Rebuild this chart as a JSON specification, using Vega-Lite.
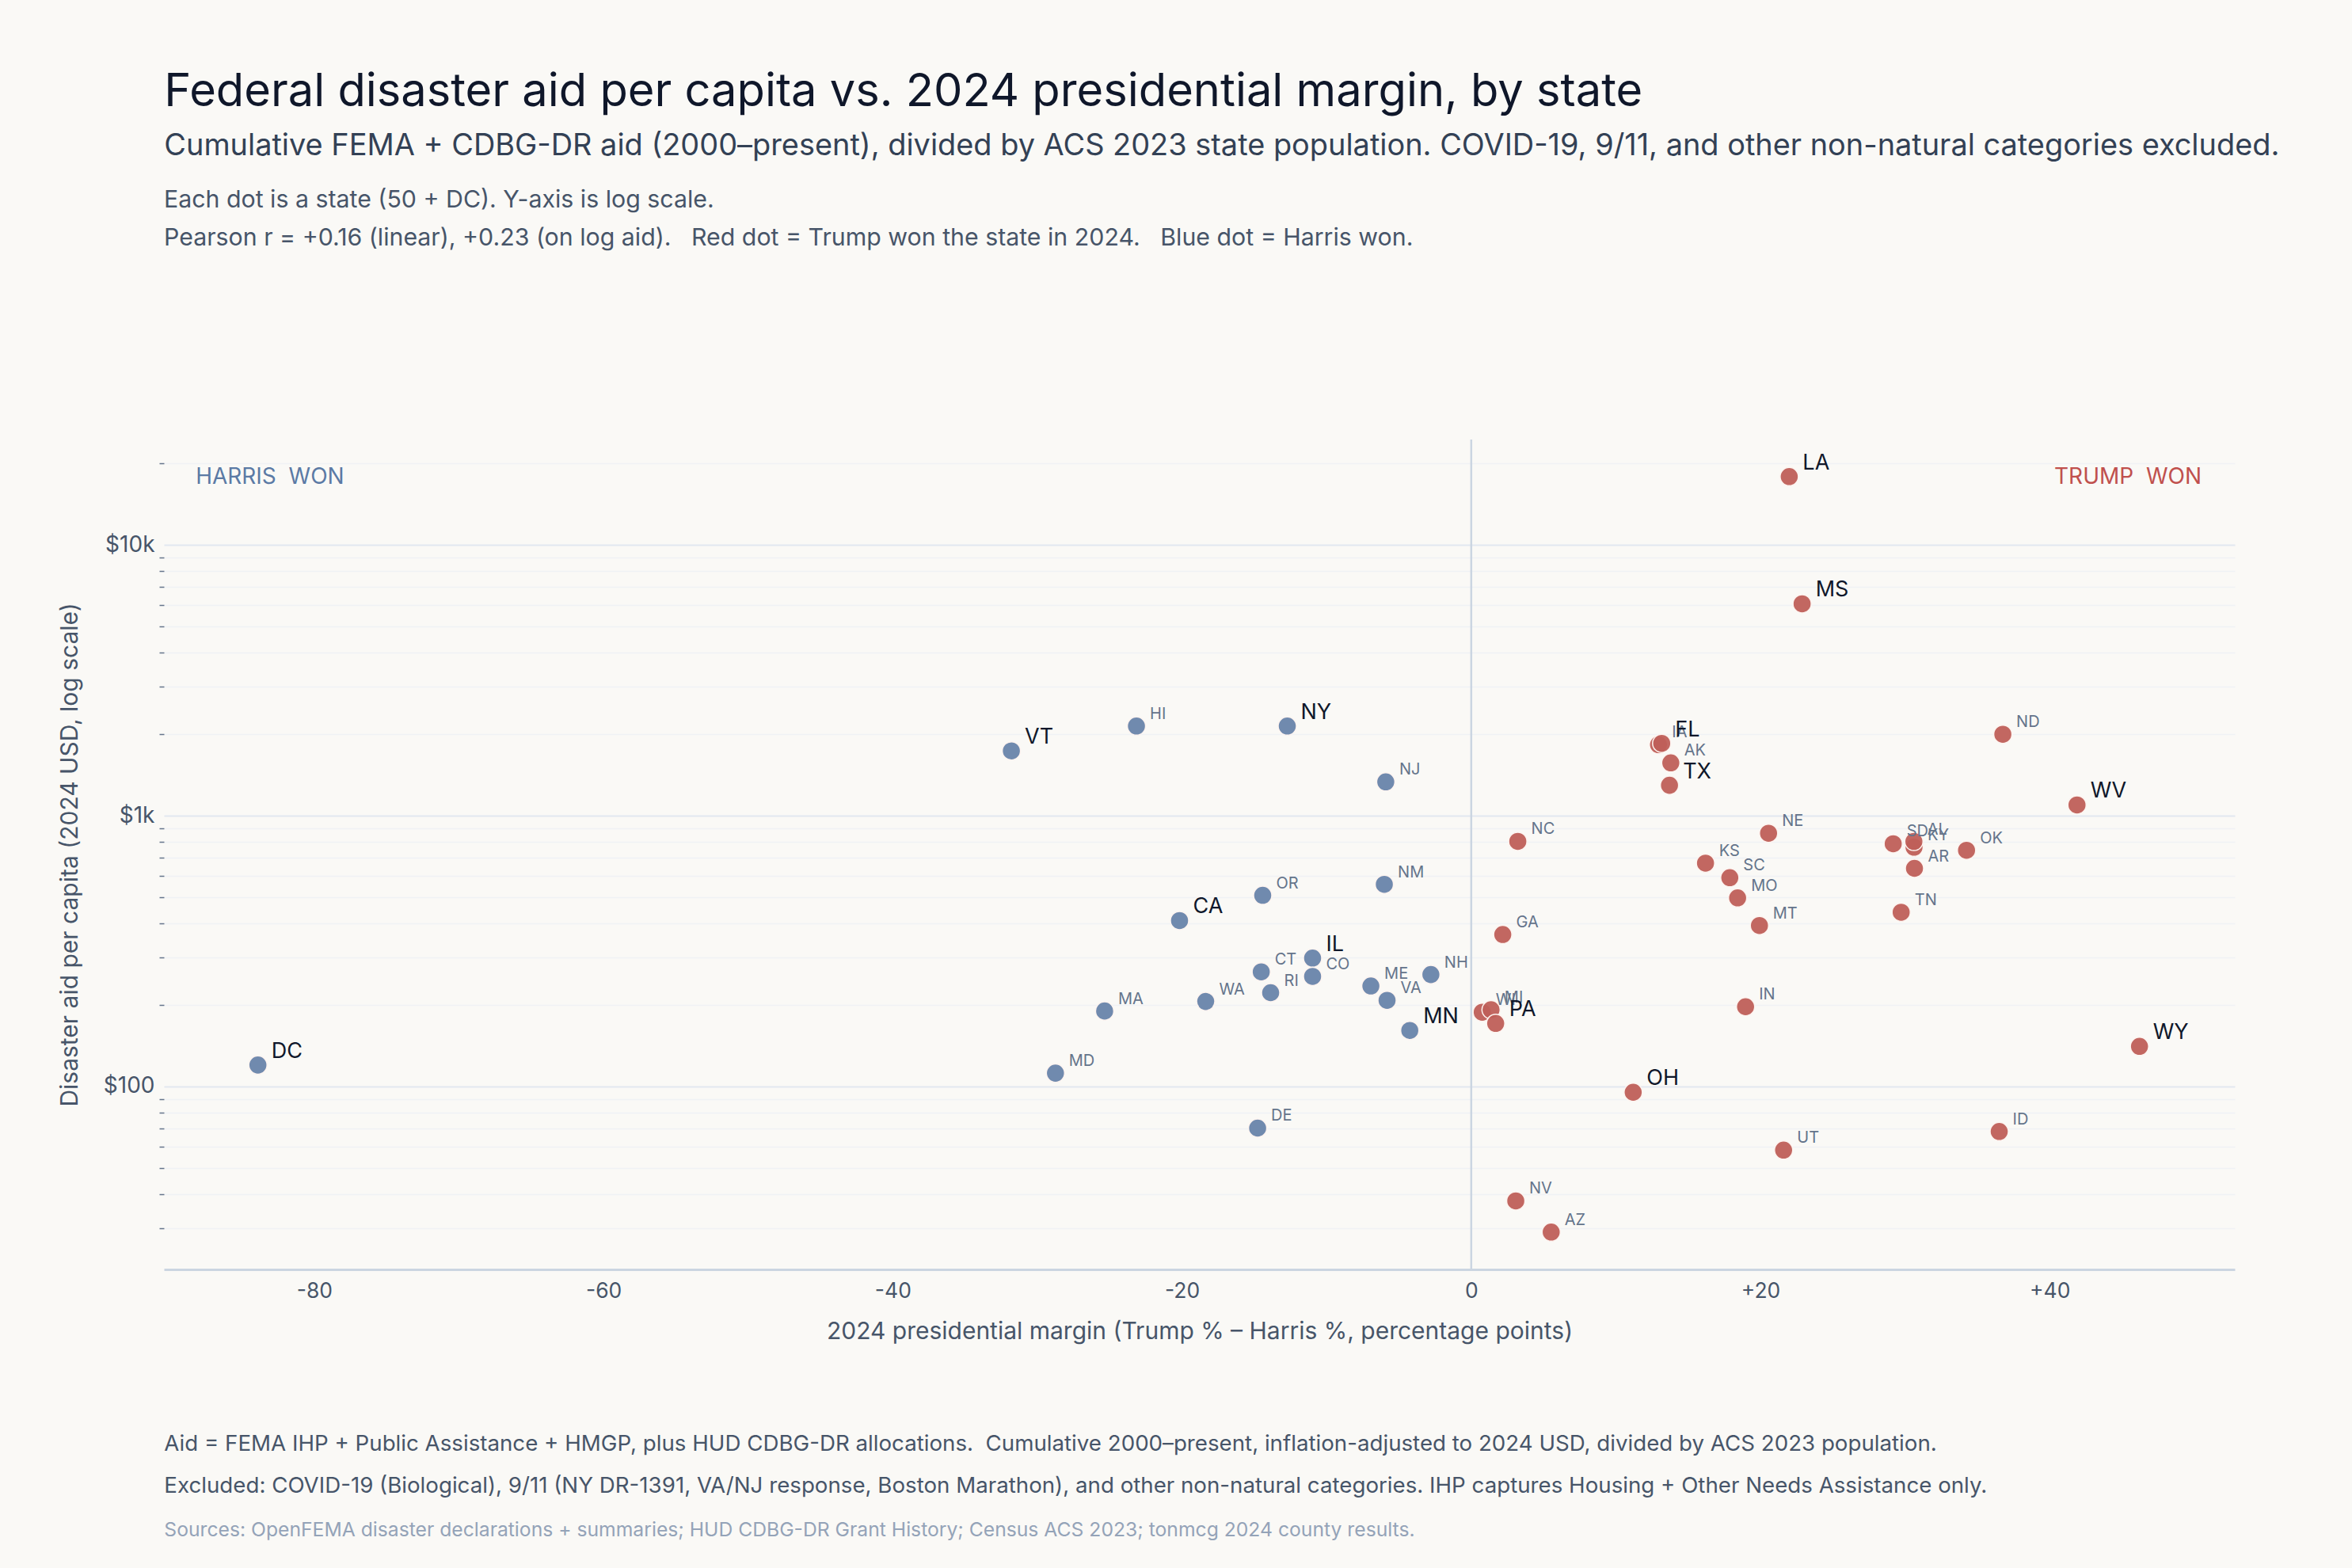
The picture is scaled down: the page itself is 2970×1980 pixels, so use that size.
{
  "$schema": "https://vega.github.io/schema/vega-lite/v6.json",
  "background": "#faf9f6",
  "padding": {"left": 73, "top": 87, "right": 142, "bottom": 40},
  "config": {
    "font": "Inter",
    "view": {"stroke": null},
    "concat": {"spacing": 0}
  },
  "datasets": {
    "states": [
      {"state": "DC", "margin": -83.9, "aid": 120, "won": "Harris", "key": true},
      {"state": "MD", "margin": -28.75, "aid": 112, "won": "Harris", "key": false},
      {"state": "MA", "margin": -25.35, "aid": 190, "won": "Harris", "key": false},
      {"state": "VT", "margin": -31.8, "aid": 1735, "won": "Harris", "key": true},
      {"state": "HI", "margin": -23.15, "aid": 2143, "won": "Harris", "key": false},
      {"state": "NY", "margin": -12.72, "aid": 2143, "won": "Harris", "key": true},
      {"state": "NJ", "margin": -5.91, "aid": 1333, "won": "Harris", "key": false},
      {"state": "CA", "margin": -20.17, "aid": 410, "won": "Harris", "key": true},
      {"state": "OR", "margin": -14.42, "aid": 508, "won": "Harris", "key": false},
      {"state": "NM", "margin": -6.01, "aid": 558, "won": "Harris", "key": false},
      {"state": "IL", "margin": -10.97, "aid": 298, "won": "Harris", "key": true},
      {"state": "CT", "margin": -14.52, "aid": 265, "won": "Harris", "key": false},
      {"state": "CO", "margin": -10.97, "aid": 255, "won": "Harris", "key": false},
      {"state": "RI", "margin": -13.87, "aid": 222, "won": "Harris", "key": false},
      {"state": "WA", "margin": -18.36, "aid": 206, "won": "Harris", "key": false},
      {"state": "ME", "margin": -6.94, "aid": 235, "won": "Harris", "key": false},
      {"state": "VA", "margin": -5.82, "aid": 208, "won": "Harris", "key": false},
      {"state": "NH", "margin": -2.79, "aid": 259, "won": "Harris", "key": false},
      {"state": "MN", "margin": -4.25, "aid": 161, "won": "Harris", "key": true},
      {"state": "DE", "margin": -14.77, "aid": 70.2, "won": "Harris", "key": false},
      {"state": "LA", "margin": 21.99, "aid": 17880, "won": "Trump", "key": true},
      {"state": "MS", "margin": 22.88, "aid": 6060, "won": "Trump", "key": true},
      {"state": "IA", "margin": 12.95, "aid": 1830, "won": "Trump", "key": false},
      {"state": "FL", "margin": 13.17, "aid": 1850, "won": "Trump", "key": true},
      {"state": "AK", "margin": 13.8, "aid": 1567, "won": "Trump", "key": false},
      {"state": "TX", "margin": 13.71, "aid": 1295, "won": "Trump", "key": true},
      {"state": "ND", "margin": 36.76, "aid": 1998, "won": "Trump", "key": false},
      {"state": "WV", "margin": 41.89, "aid": 1096, "won": "Trump", "key": true},
      {"state": "NC", "margin": 3.22, "aid": 804, "won": "Trump", "key": false},
      {"state": "NE", "margin": 20.56, "aid": 861, "won": "Trump", "key": false},
      {"state": "KS", "margin": 16.2, "aid": 668, "won": "Trump", "key": false},
      {"state": "SC", "margin": 17.88, "aid": 590, "won": "Trump", "key": false},
      {"state": "MO", "margin": 18.42, "aid": 497, "won": "Trump", "key": false},
      {"state": "MT", "margin": 19.93, "aid": 393, "won": "Trump", "key": false},
      {"state": "SD", "margin": 29.18, "aid": 788, "won": "Trump", "key": false},
      {"state": "KY", "margin": 30.62, "aid": 765, "won": "Trump", "key": false},
      {"state": "AL", "margin": 30.61, "aid": 803, "won": "Trump", "key": false},
      {"state": "AR", "margin": 30.65, "aid": 639, "won": "Trump", "key": false},
      {"state": "OK", "margin": 34.25, "aid": 745, "won": "Trump", "key": false},
      {"state": "TN", "margin": 29.73, "aid": 440, "won": "Trump", "key": false},
      {"state": "GA", "margin": 2.18, "aid": 364, "won": "Trump", "key": false},
      {"state": "WI", "margin": 0.76, "aid": 188, "won": "Trump", "key": false},
      {"state": "MI", "margin": 1.37, "aid": 192, "won": "Trump", "key": false},
      {"state": "PA", "margin": 1.69, "aid": 171, "won": "Trump", "key": true},
      {"state": "IN", "margin": 18.97, "aid": 197, "won": "Trump", "key": false},
      {"state": "OH", "margin": 11.2, "aid": 95.2, "won": "Trump", "key": true},
      {"state": "UT", "margin": 21.6, "aid": 58.2, "won": "Trump", "key": false},
      {"state": "NV", "margin": 3.08, "aid": 37.8, "won": "Trump", "key": false},
      {"state": "AZ", "margin": 5.53, "aid": 29.0, "won": "Trump", "key": false},
      {"state": "ID", "margin": 36.51, "aid": 68.2, "won": "Trump", "key": false},
      {"state": "WY", "margin": 46.21, "aid": 140.6, "won": "Trump", "key": true}
    ],
    "corners": [
      {"label": "HARRIS\u00a0\u00a0WON", "margin": -88.2, "aid": 17720, "won": "Harris"},
      {"label": "TRUMP\u00a0\u00a0WON", "margin": 50.5, "aid": 17720, "won": "Trump"}
    ]
  },
  "title": {
    "text": [
      "Aid = FEMA IHP + Public Assistance + HMGP, plus HUD CDBG-DR allocations.\u00a0\u00a0Cumulative 2000–present, inflation-adjusted to 2024 USD, divided by ACS 2023 population.",
      "Excluded: COVID-19 (Biological), 9/11 (NY DR-1391, VA/NJ response, Boston Marathon), and other non-natural categories. IHP captures Housing + Other Needs Assistance only."
    ],
    "subtitle": "Sources: OpenFEMA disaster declarations + summaries; HUD CDBG-DR Grant History; Census ACS 2023; tonmcg 2024 county results.",
    "orient": "bottom",
    "anchor": "start",
    "dx": 134,
    "offset": 113,
    "fontSize": 27.7,
    "fontWeight": "normal",
    "color": "#475569",
    "lineHeight": 53,
    "subtitleFontSize": 24.7,
    "subtitleColor": "#94a3b8",
    "subtitlePadding": 30
  },
  "vconcat": [
    {
      "title": {
        "text": "Federal disaster aid per capita vs. 2024 presidential margin, by state",
        "subtitle": "Cumulative FEMA + CDBG-DR aid (2000–present), divided by ACS 2023 state population. COVID-19, 9/11, and other non-natural categories excluded.",
        "anchor": "start",
        "dx": 134,
        "offset": 35,
        "fontSize": 57.8,
        "fontWeight": "normal",
        "color": "#0f172a",
        "subtitleFontSize": 37.9,
        "subtitleColor": "#334155",
        "subtitlePadding": 20
      },
      "vconcat": [
        {
          "title": {
            "text": [
              "Each dot is a state (50 + DC). Y-axis is log scale.",
              "Pearson r = +0.16 (linear), +0.23 (on log aid).\u00a0\u00a0\u00a0Red dot = Trump won the state in 2024.\u00a0\u00a0\u00a0Blue dot = Harris won."
            ],
            "anchor": "start",
            "frame": "group",
            "offset": 237,
            "fontSize": 30.3,
            "fontWeight": "normal",
            "color": "#475569",
            "lineHeight": 48
          },
          "width": 2615,
          "height": 1048,
          "encoding": {
            "x": {
              "field": "margin",
              "type": "quantitative",
              "scale": {"domain": [-90.4, 52.8], "nice": false, "zero": false},
              "axis": {
                "title": "2024 presidential margin (Trump % – Harris %, percentage points)",
                "values": [-80, -60, -40, -20, 0, 20, 40],
                "labelExpr": "datum.value > 0 ? '+' + datum.value : '' + datum.value",
                "grid": false,
                "ticks": false,
                "tickSize": 0,
                "domainColor": "#cbd5e1",
                "domainWidth": 3,
                "labelFontSize": 26.5,
                "labelColor": "#475569",
                "labelPadding": 14,
                "titleFontSize": 30,
                "titleFontWeight": "normal",
                "titleColor": "#475569",
                "titlePadding": 23
              }
            },
            "y": {
              "field": "aid",
              "type": "quantitative",
              "scale": {"type": "log", "domain": [21.1, 24500], "nice": false},
              "axis": {
                "title": "Disaster aid per capita (2024 USD, log scale)",
                "values": [30, 40, 50, 60, 70, 80, 90, 100, 200, 300, 400, 500, 600, 700, 800, 900, 1000, 2000, 3000, 4000, 5000, 6000, 7000, 8000, 9000, 10000, 20000],
                "labelExpr": "datum.value == 10000 ? '$10k' : datum.value == 1000 ? '$1k' : datum.value == 100 ? '$100' : ''",
                "labelOverlap": false,
                "domain": false,
                "grid": true,
                "gridColor": {"condition": {"test": "datum.value == 100 || datum.value == 1000 || datum.value == 10000", "value": "#e2e8f0"}, "value": "#f0f2f5"},
                "gridWidth": {"condition": {"test": "datum.value == 100 || datum.value == 1000 || datum.value == 10000", "value": 2}, "value": 1.5},
                "tickOpacity": {"condition": {"test": "datum.value == 100 || datum.value == 1000 || datum.value == 10000", "value": 0}, "value": 1},
                "tickSize": 6,
                "tickColor": "#64748b",
                "tickWidth": 1.5,
                "labelFontSize": 28,
                "labelColor": "#475569",
                "labelPadding": 6,
                "titleFontSize": 30,
                "titleFontWeight": "normal",
                "titleColor": "#475569",
                "titlePadding": 27
              }
            }
          },
          "layer": [
            {
              "data": {"values": [{"margin": 0}]},
              "mark": {"type": "rule", "color": "#cbd5e1", "strokeWidth": 2.5},
              "encoding": {"x": {"field": "margin", "type": "quantitative"}, "y": null}
            },
            {
              "data": {"name": "states"},
              "mark": {"type": "circle", "size": 530, "opacity": 1, "fillOpacity": 0.95, "stroke": "#fdf4f0", "strokeWidth": 1.5},
              "encoding": {
                "color": {
                  "field": "won",
                  "type": "nominal",
                  "scale": {"domain": ["Trump", "Harris"], "range": ["#bf5f58", "#6884aa"]},
                  "legend": null
                }
              }
            },
            {
              "data": {"name": "states"},
              "transform": [{"filter": "!datum.key"}],
              "mark": {"type": "text", "align": "left", "baseline": "alphabetic", "dx": 17, "dy": -9, "fontSize": 20, "color": "#64748b"},
              "encoding": {"text": {"field": "state"}}
            },
            {
              "data": {"name": "states"},
              "transform": [{"filter": "datum.key"}],
              "mark": {"type": "text", "align": "left", "baseline": "alphabetic", "dx": 17, "dy": -9, "fontSize": 27, "color": "#0f172a"},
              "encoding": {"text": {"field": "state"}}
            },
            {
              "data": {"name": "corners"},
              "transform": [{"filter": "datum.won == 'Harris'"}],
              "mark": {"type": "text", "align": "left", "baseline": "middle", "fontSize": 28, "letterSpacing": 5, "color": "#5b7aa5"},
              "encoding": {"text": {"field": "label"}}
            },
            {
              "data": {"name": "corners"},
              "transform": [{"filter": "datum.won == 'Trump'"}],
              "mark": {"type": "text", "align": "right", "baseline": "middle", "fontSize": 28, "letterSpacing": 4, "color": "#c0504d"},
              "encoding": {"text": {"field": "label"}}
            }
          ]
        }
      ]
    }
  ]
}
